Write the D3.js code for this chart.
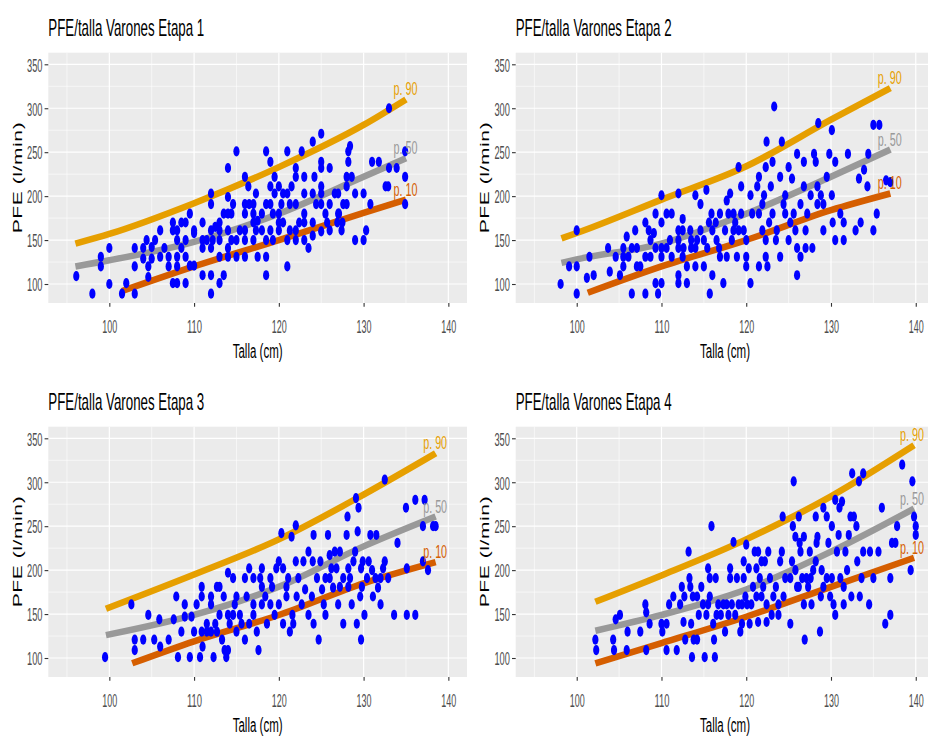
<!DOCTYPE html>
<html>
<head>
<meta charset="utf-8">
<script src="https://cdn.jsdelivr.net/npm/d3@7"></script>
<style>
body { margin: 0; background: #fff; }
svg { display: block; }
</style>
</head>
<body>
<svg width="928" height="737"></svg>
<script>
// ---------------- data ----------------
const titles = ["PFE/talla Varones Etapa 1", "PFE/talla Varones Etapa 2",
                "PFE/talla Varones Etapa 3", "PFE/talla Varones Etapa 4"];
const xTicks = [100, 110, 120, 130, 140];
const xMinor = [95, 105, 115, 125, 135];
const yTicks = [100, 150, 200, 250, 300, 350];
const yMinor = [125, 175, 225, 275, 325];
const pctLabels = ["p. 90", "p. 50", "p. 10"];
const pctColors = ["#E69F00", "#999999", "#D55E00"];

// [talla, pfe]
const etapa1 = [[96.1,109],[98,89],[99,131],[99,120],[100,141],[100,100],[101.5,89],[102,101],[103,141],[103,120],
  [103,89],[104,129],[104,141],[104.4,150],[104.6,120],[104.6,108],[105,142],[105,129],[105.4,150],[106,161],
  [106,131],[107,120],[107,131],[107.5,170],[107.5,161],[107.5,101],[108,161],[108,150],[108,131],[108,120],
  [108,101],[108.5,170],[109,170],[109,150],[109,131],[109,101],[109.5,180],[109.5,121],[110,161],[110,158],
  [110,121],[111,170],[111,141],[111,110],[111.5,150],[112,203],[112,191],[112,161],[112,141],[112,110],
  [112,89],[112.5,165],[113,170],[113,150],[113,131],[113,101],[113.5,180],[113.5,110],[114,232],[114,199],
  [114,180],[114,161],[114,141],[114,131],[114.4,180],[115,251],[115,150],[115,131],[116,222],[116,191],
  [116,180],[116,161],[116,131],[116.5,191],[117,191],[117,180],[117,150],[117.3,203],[117.3,161],[117.5,131],
  [118,161],[118,180],[118.5,251],[118.5,191],[118.5,150],[118.5,131],[118.5,110],[119,239],[119,211],[119,191],
  [119,161],[119.5,222],[119.5,203],[120,211],[120,180],[120,170],[120,161],[120.5,203],[120.5,170],[121,251],
  [121,203],[121,150],[121,120],[121.5,211],[122,232],[122,222],[122,191],[122,161],[122,150],[122.7,251],
  [123,222],[123,203],[123,180],[123,170],[123,150],[123.5,141],[124,262],[124,203],[124,170],[124,155],
  [124.2,222],[125,271],[125,239],[125,232],[125,203],[125,191],[125,160],[125.5,180],[126,232],[126,161],
  [126,191],[127,203],[127,180],[127.4,161],[127.6,191],[128,222],[128,211],[128,191],[128.2,251],[128.2,239],
  [128.4,257],[129,203],[129,150],[130,203],[130,150],[130.3,161],[130.8,191],[131,239],[131.8,239],[132.6,211],
  [132.9,211],[133,232],[133,300],[133.9,232],[134.9,251],[134.9,222],[134.9,191],
  [112.2,150],[113,161],[114.6,191],[115.4,161],[116.4,211],[117,170],[117.5,172],[119.3,180],[120.3,191],[121.3,191],
  [122.4,170],[124.4,191],[125,211],[125.7,170],[126.6,203],[126.9,170],[127.1,180],[128.6,222],[127.5,170],[121.3,161],
  [119.3,150],[116,150],[114.4,150],[111,150],[108.5,141],[106.5,141]];

const etapa2 = [[98.1,100],[99.1,120],[100,161],[100,120],[100,89],[101.2,107],[101.5,131],[102,110],[103.7,141],[103.9,114],
  [104.6,131],[105.1,110],[105.5,141],[105.5,120],[105.9,154],[106.1,131],[106.5,141],[106.5,89],[106.9,161],[107.1,120],
  [107.5,120],[108.1,170],[108.1,131],[108.1,89],[108.5,161],[108.7,131],[109.1,158],[109.3,180],[109.3,141],[109.3,101],
  [109.6,89],[110,201],[110,170],[110,141],[110,131],[110,101],[110.6,180],[111,150],[111.2,180],[112,203],
  [112,161],[112,150],[112,141],[112,110],[112,101],[112.5,174],[112.5,161],[112.5,131],[113,101],[113,120],
  [113.5,150],[113.5,141],[114,201],[114,141],[114,120],[114.6,191],[114.6,161],[115,150],[115,120],[115.3,207],
  [115.6,170],[115.7,89],[115.9,180],[116,110],[116,161],[116.5,150],[116.9,180],[116.9,131],[117.3,101],[117.5,161],
  [117.7,195],[117.7,131],[118.1,203],[118.3,150],[118.5,180],[118.5,161],[118.9,131],[119.1,233],[119.1,161],[119.4,211],
  [119.4,180],[120,150],[120,131],[120,120],[120.5,201],[120.5,101],[121.5,222],[121.5,180],[121.5,120],[121.9,161],
  [122.1,201],[122.3,233],[122.3,150],[122.3,131],[122.4,262],[122.5,120],[122.9,211],[123.1,180],[123.3,302],[123.1,239],
  [123.5,150],[124,222],[124,131],[124.2,262],[124.6,180],[124.6,201],[125,150],[125,233],[125.4,220],[125.6,180],
  [126,248],[126,141],[126,110],[126.4,131],[126.8,211],[126.8,239],[127,161],[127,141],[127.6,201],[127.8,141],
  [128,248],[128.2,239],[128.4,191],[128.5,283],[128.8,201],[129.1,161],[129.1,191],[129.8,248],[130.1,275],[130.1,201],
  [130.2,170],[130.5,239],[130.5,150],[131.1,180],[131.5,170],[131.5,150],[132,248],[132.9,161],[133.3,220],[133.5,170],
  [133.9,230],[134.3,211],[134.4,248],[135,281],[135,161],[135.4,180],[135.7,281],[136.5,218],[137,216],
  [105.5,131],[107.1,141],[108.7,150],[110.6,141],[111.2,131],[112.6,141],[113.4,161],[114.2,150],[115.4,141],[116.4,170],
  [116.8,141],[117.9,180],[118.7,170],[119.7,161],[120.7,180],[121.3,211],[121.9,191],[122.7,170],[123.6,161],[124.4,191],
  [125.2,170],[125.8,161],[126.4,191],[127.2,180],[128.4,211],[129.5,222]];

const etapa3 = [[99.5,101],[102.6,161],[103,121],[103,109],[104,121],[104.6,149],[105.3,121],[105.9,144],[106,113],[107,121],
  [107.6,144],[107.9,170],[108.1,101],[108.5,130],[108.9,161],[108.9,147],[109.5,101],[109.7,147],[110,130],[110.3,161],
  [110.7,101],[110.9,181],[110.9,170],[110.9,130],[111,113],[111.5,130],[112,170],[112,161],[112,130],[112.3,101],
  [112.5,139],[112.7,181],[113,181],[113,149],[113.3,121],[113.5,170],[113.6,109],[113.8,101],[114,197],[114,149],
  [114,109],[114.6,191],[114.6,149],[115,130],[115,170],[115.4,149],[116,191],[116,121],[116.2,170],[116.5,202],
  [116.5,139],[117,191],[117,161],[117.4,130],[117.6,109],[117.8,191],[118,181],[118,161],[118,202],[118.6,139],
  [119,191],[119,161],[119.5,149],[119.7,202],[120,210],[120.3,242],[120.5,202],[120.5,139],[120.9,170],[120.9,181],
  [121.3,130],[121.5,238],[121.6,149],[121.7,139],[122,251],[122,210],[122.1,170],[122.9,210],[123.1,178],[123.5,221],
  [123.5,149],[124,210],[124.1,240],[124.1,139],[124.7,121],[124.9,210],[125.3,161],[125.5,191],[125.5,149],[125.8,240],
  [126,191],[126,217],[126.4,180],[126.6,221],[126.8,202],[127,161],[127.2,221],[127.6,191],[127.6,139],[128,240],
  [128.1,261],[128.2,202],[128.4,191],[128.6,161],[129,221],[129.1,282],[129.2,139],[129.3,244],[129.4,271],[129.6,170],
  [129.7,202],[129.7,121],[129.9,210],[130.1,149],[130.4,191],[130.6,210],[130.8,240],[131.1,170],[131.4,191],[131.5,240],
  [131.7,180],[132,161],[132.3,202],[132.5,210],[132.5,303],[132.9,191],[133.6,149],[134,231],[135,271],[135.1,149],
  [135.1,202],[136.1,280],[136.1,149],[137,250],[137,210],[137.2,280],[137.6,200],[138.2,250],[138.5,250],
  [111.5,139],[112.7,130],[114.2,139],[114.8,161],[115.6,139],[117,149],[118.4,170],[119.2,181],[120,161],[121.1,191],
  [122.3,191],[122.7,161],[123.9,170],[124.5,191],[125.1,178],[126.2,202],[127.2,181],[128.2,181],[128.8,210],[129.8,181],
  [131,200],[132,191]];

const etapa4 = [[102.2,121],[102.3,109],[104.3,121],[104.4,109],[104.6,144],[105.1,149],[105.9,109],[106,130],[107.5,130],[108.1,161],
  [108.2,152],[108.2,109],[108.6,139],[110,139],[110.1,130],[110.6,139],[110.6,109],[110.9,161],[111.4,170],[111.8,109],
  [112.4,181],[112.6,141],[112.7,170],[112.8,121],[113.2,221],[113.3,191],[113.4,181],[113.5,139],[113.6,101],[113.7,170],
  [113.8,121],[114.2,121],[114.4,149],[114.7,181],[114.9,161],[115.1,101],[115.3,149],[115.5,202],[115.7,191],[115.7,170],
  [115.9,250],[116.1,139],[116.2,121],[116.3,101],[116.4,191],[116.7,161],[117,149],[117.5,130],[117.7,161],[118.1,202],
  [118.1,191],[118.3,161],[118.5,232],[118.7,149],[118.9,191],[119.1,161],[119.3,130],[119.5,139],[119.7,210],[119.7,191],
  [119.9,170],[120,229],[120.1,161],[120.3,202],[120.4,139],[120.8,181],[121,221],[121.2,202],[121.2,170],[121.4,221],
  [121.4,141],[121.6,191],[121.8,210],[122,181],[122.2,210],[122.4,161],[122.4,141],[122.6,221],[123,149],[123.2,170],
  [123.5,181],[123.8,149],[124,210],[124.2,221],[124.3,261],[124.4,170],[125.2,139],[125.2,191],[125.4,210],[125.5,250],
  [125.6,301],[125.8,238],[126,181],[126.2,261],[126.3,231],[126.4,221],[126.6,191],[126.8,161],[126.8,238],[126.9,121],
  [127.1,191],[127.3,181],[127.5,221],[127.7,161],[127.9,200],[128.2,261],[128.3,231],[128.4,238],[128.7,130],[128.8,170],
  [128.9,200],[129.1,271],[129.5,261],[129.5,191],[129.7,231],[129.9,170],[130.1,250],[130.3,161],[130.5,280],[130.5,149],
  [130.9,240],[131,271],[131.1,191],[131.3,278],[131.5,181],[131.5,161],[131.7,221],[132.1,240],[132.3,261],[132.4,170],
  [132.5,310],[132.7,261],[133,250],[133.1,210],[133.3,301],[133.4,170],[133.6,191],[133.8,310],[133.8,221],[134.5,161],
  [134.6,221],[135,191],[135.6,221],[136,271],[136.4,139],[137,191],[137,149],[137.2,231],[137.6,231],[137.8,250],
  [138.4,320],[139.4,200],[139.6,301],[139.8,261],[140,250],[140,240],
  [112.2,161],[114.2,170],[115.5,161],[116.5,149],[117.3,161],[117.9,149],[119.5,161],[120.6,161],[121.8,170],[122.8,191],
  [123.8,161],[124.6,191],[125.8,200],[126.2,181],[127.6,191],[128.2,210],[129.1,181],[130.1,191],[130.7,221],[131.9,200]];

// percentile curves: [talla, pfe]
const p90_1 = [[96,146],[100,157],[110,192],[120,233],[130,281],[135,310]];
const p50_1 = [[96,120],[100,127],[110,148],[120,180],[130,222],[135,243]];
const p10_1 = [[101.5,92],[110,120],[120,150],[130,181],[135,196]];
const p90_2 = [[98.2,152],[100,158],[110,196],[120,234],[130,287],[137,323]];
const p50_2 = [[98.2,124],[100,128],[110,146],[120,180],[130,222],[137,253]];
const p10_2 = [[101.3,90],[110,120],[120,150],[130,184],[137,203]];
const p90_3 = [[99.6,156],[110,195],[120,235],[130,286],[138.5,333]];
const p50_3 = [[99.6,126],[110,149],[120,181],[130,227],[138.5,261]];
const p10_3 = [[102.7,94],[110,119],[120,149],[130,185],[138.5,209]];
const p90_4 = [[102.2,164],[110,194],[120,235],[130,284],[139.8,342]];
const p50_4 = [[102.2,131],[110,149],[120,178],[130,221],[139.8,270]];
const p10_4 = [[102.2,94],[110,117],[120,147],[130,181],[139.8,214]];

const panels = [
  {title: titles[0], pts: etapa1, curves: [p90_1, p50_1, p10_1], ox: 48.3, oy: 52.7},
  {title: titles[1], pts: etapa2, curves: [p90_2, p50_2, p10_2], ox: 515.7, oy: 52.7},
  {title: titles[2], pts: etapa3, curves: [p90_3, p50_3, p10_3], ox: 48.3, oy: 426.7},
  {title: titles[3], pts: etapa4, curves: [p90_4, p50_4, p10_4], ox: 515.7, oy: 426.7}
];

// ---------------- layout ----------------
const pw = 418.7, ph = 250.3;
const font = "Liberation Sans, Arial, sans-serif";

const x = d3.scaleLinear().domain([92.8, 142.2]).range([0, pw]);
const y = d3.scaleLinear().domain([78.4, 363.2]).range([ph, 0]);

const line = d3.line()
  .x(d => x(d[0]))
  .y(d => y(d[1]))
  .curve(d3.curveMonotoneX);

// squeeze a horizontal text to a given width (the picture's text is narrow)
function squeeze(sel, w) {
  sel.each(function() {
    const t = d3.select(this);
    const tx = +t.attr("x") || 0, ty = +t.attr("y") || 0;
    const s = w / this.getComputedTextLength();
    t.attr("x", 0).attr("y", 0)
     .attr("transform", "translate(" + tx + "," + ty + ") scale(" + s + ",1)");
  });
}

const svg = d3.select("svg");

panels.forEach(p => {
  const g = svg.append("g").attr("transform", "translate(" + p.ox + "," + p.oy + ")");

  // panel background + grid
  g.append("rect").attr("width", Math.min(pw, 928 - p.ox)).attr("height", ph).attr("fill", "#EBEBEB");
  g.selectAll(".vmin").data(xMinor).join("line")
    .attr("x1", d => x(d)).attr("x2", d => x(d)).attr("y1", 0).attr("y2", ph)
    .attr("stroke", "#fff").attr("stroke-width", 0.6);
  g.selectAll(".hmin").data(yMinor).join("line")
    .attr("y1", d => y(d)).attr("y2", d => y(d)).attr("x1", 0).attr("x2", Math.min(pw, 928 - p.ox))
    .attr("stroke", "#fff").attr("stroke-width", 0.6);
  g.selectAll(".vmaj").data(xTicks).join("line")
    .attr("x1", d => x(d)).attr("x2", d => x(d)).attr("y1", 0).attr("y2", ph)
    .attr("stroke", "#fff").attr("stroke-width", 1.2);
  g.selectAll(".hmaj").data(yTicks).join("line")
    .attr("y1", d => y(d)).attr("y2", d => y(d)).attr("x1", 0).attr("x2", Math.min(pw, 928 - p.ox))
    .attr("stroke", "#fff").attr("stroke-width", 1.2);

  // percentile curves
  p.curves.forEach((c, i) => {
    g.append("path").datum(c)
      .attr("d", line)
      .attr("fill", "none")
      .attr("stroke", pctColors[i])
      .attr("stroke-width", 6.5);
  });

  // points
  g.selectAll(".pt").data(p.pts).join("ellipse")
    .attr("cx", d => x(d[0])).attr("cy", d => y(d[1]))
    .attr("rx", 3.1).attr("ry", 5.1)
    .attr("fill", "#0000FF");

  // curve labels (kept inside the picture at the right edge)
  p.curves.forEach((c, i) => {
    const last = c[c.length - 1];
    const lx = Math.min(p.ox + x(last[0]) - 12.5, 924 - 24) - p.ox;
    g.append("text")
      .attr("x", lx).attr("y", y(last[1]) - 4)
      .attr("font-family", font).attr("font-size", 19)
      .attr("fill", pctColors[i])
      .text(pctLabels[i])
      .call(squeeze, 24);
  });

  // axes
  const ax = g.append("g").attr("transform", "translate(0," + ph + ")")
    .call(d3.axisBottom(x).tickValues(xTicks).tickSize(3.7));
  ax.select(".domain").remove();
  ax.selectAll("line").attr("stroke", "#333").attr("stroke-width", 1.1);
  ax.selectAll("text")
    .attr("text-anchor", "start").attr("x", -7.5).attr("y", 29.5).attr("dy", null)
    .attr("font-family", font).attr("font-size", 19).attr("fill", "#4D4D4D")
    .call(squeeze, 15);

  const ay = g.append("g")
    .call(d3.axisLeft(y).tickValues(yTicks).tickSize(3.7));
  ay.select(".domain").remove();
  ay.selectAll("line").attr("stroke", "#333").attr("stroke-width", 1.1);
  ay.selectAll("text")
    .attr("text-anchor", "start").attr("x", -21.3).attr("y", 6.8).attr("dy", null)
    .attr("font-family", font).attr("font-size", 18.5).attr("fill", "#4D4D4D")
    .call(squeeze, 15.5);

  // titles
  g.append("text")
    .attr("x", 0).attr("y", -16.5)
    .attr("font-family", font).attr("font-size", 23).attr("fill", "#000")
    .text(p.title)
    .call(squeeze, 156);

  g.append("text")
    .attr("x", pw / 2 - 25).attr("y", ph + 54.5)
    .attr("font-family", font).attr("font-size", 21).attr("fill", "#000")
    .text("Talla (cm)")
    .call(squeeze, 50);

  g.append("text")
    .attr("transform", "translate(-26.4," + (ph / 2) + ") scale(0.62,1) rotate(-90)")
    .attr("x", -55.5).attr("y", 0)
    .attr("font-family", font).attr("font-size", 21).attr("fill", "#000")
    .attr("textLength", 111).attr("lengthAdjust", "spacing")
    .text("PFE (l/min)");
});
</script>
</body>
</html>
